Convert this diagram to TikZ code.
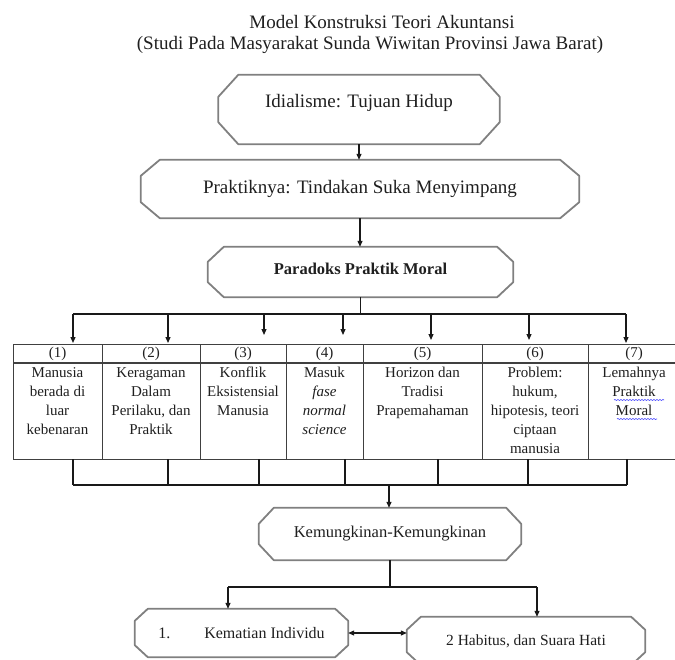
\documentclass[tikz,border=0pt]{standalone}
\usepackage{fontspec}
\setmainfont{Liberation Serif}
\usetikzlibrary{arrows.meta,calc,decorations.pathmorphing}
\newcommand\octbox[3]{\draw[boxline] ([xshift=#2]#1.north west) -- ([xshift=-#2]#1.north east) -- ([yshift=-#3]#1.north east) -- ([yshift=#3]#1.south east) -- ([xshift=-#2]#1.south east) -- ([xshift=#2]#1.south west) -- ([yshift=#3]#1.south west) -- ([yshift=-#3]#1.north west) -- cycle;}
\begin{document}
\begin{tikzpicture}[x=1pt,y=-1pt,
  every node/.style={text=black!88},
  boxline/.style={draw=black!50, line width=1.8pt, line join=round},
  box/.style={rectangle, inner sep=0pt},
  conn/.style={line width=1.2pt, draw=black!90},
  arr/.style={conn, -{Triangle[length=6pt,width=5pt]}},
  gridline/.style={draw=black!75, line width=1.2pt},
  big/.style={font=\fontsize{19}{23}\selectfont},
  mid/.style={font=\fontsize{16.5}{20}\selectfont},
  small/.style={font=\fontsize{15}{19}\selectfont},
  cell/.style={small, align=center, anchor=north, inner sep=0pt},
  col/.style={gridline, rectangle, inner sep=0pt, anchor=north west, minimum height=115pt}
]
\useasboundingbox (0,0) rectangle (675,659);
% titles
\node[big] (t1) at (382,22) {Model Konstruksi Teori Akuntansi};
\node[big] (t2) at (370,45) {(Studi Pada Masyarakat Sunda Wiwitan Provinsi Jawa Barat)};
% top boxes
\node[box, big, minimum width=281pt, minimum height=69pt, text height=14pt, text depth=19pt] (idial) at (359,109.5) {Idialisme: Tujuan Hidup};
\octbox{idial}{20pt}{22pt}
\node[box, big, minimum width=438pt, minimum height=58pt] (prak) at (360,189) {Praktiknya: Tindakan Suka Menyimpang};
\octbox{prak}{19pt}{16pt}
\node[box, mid, minimum width=305pt, minimum height=50pt, text height=13pt, text depth=9pt] (para) at (360.5,272) {\textbf{Paradoks Praktik Moral}};
\octbox{para}{16pt}{15pt}
\draw[arr] (idial.south) -- (idial.south |- prak.north);
\draw[arr] (prak.south) -- (prak.south |- para.north);
% table columns
\node[col, minimum width=89pt] (col1) at (13,344) {};
\node[col, minimum width=98pt] (col2) at (102,344) {};
\node[col, minimum width=86pt] (col3) at (200,344) {};
\node[col, minimum width=77pt] (col4) at (286,344) {};
\node[col, minimum width=119pt] (col5) at (363,344) {};
\node[col, minimum width=106pt] (col6) at (482,344) {};
\node[col, minimum width=92pt] (col7) at (588,344) {};
\draw[gridline] (col1.north west |- 0,363) -- (col7.north east |- 0,363);
% headers
\node[small] (h1) at (57.5,353.5) {(1)};
\node[small] (h2) at (151,353.5) {(2)};
\node[small] (h3) at (243,353.5) {(3)};
\node[small] (h4) at (324.5,353.5) {(4)};
\node[small] (h5) at (422.5,353.5) {(5)};
\node[small] (h6) at (535,353.5) {(6)};
\node[small] (h7) at (634,353.5) {(7)};
% cells
\node[cell] (c1) at (57.5,367) {Manusia\\berada di\\luar\\kebenaran};
\node[cell] (c2) at (151,367) {Keragaman\\Dalam\\Perilaku, dan\\Praktik};
\node[cell] (c3) at (243,367) {Konflik\\Eksistensial\\Manusia};
\node[cell] (c4) at (324.5,367) {Masuk\\\textit{fase}\\\textit{normal}\\\textit{science}};
\node[cell] (c5) at (422.5,367) {Horizon dan\\Tradisi\\Prapemahaman};
\node[cell] (c6) at (535,367) {Problem:\\hukum,\\hipotesis, teori\\ciptaan\\manusia};
\node[cell] (c7) at (634,367) {Lemahnya\\Praktik\\Moral};
\draw[blue!70, line width=0.6pt, decorate, decoration={snake, amplitude=0.6pt, segment length=3pt}] (614,400) -- (664,400);
\draw[blue!70, line width=0.6pt, decorate, decoration={snake, amplitude=0.6pt, segment length=3pt}] (617,419) -- (657,419);
% top bus
\coordinate (tL) at (73,314);
\coordinate (tR) at (626,314);
\draw[conn] (para.south) -- (para.south |- tL);
\draw[conn] (tL) -- (tR);
\foreach \x/\e [count=\i] in {73/343,168/343,264/335,343/335,431/340,529/340,626/343}{
  \coordinate (t\i) at (\x,314);
  \coordinate (b\i) at (\x,\e);
  \draw[arr] (t\i) -- (b\i);
}
% bottom bus
\foreach \x [count=\i] in {73,168,259,345,438,528,627}{
  \coordinate (u\i) at (\x,459);
  \coordinate (v\i) at (\x,485);
  \draw[conn] (u\i) -- (v\i);
}
\draw[conn] (v1) -- (v7);
% Kemungkinan
\node[box, mid, minimum width=262pt, minimum height=52pt] (kem) at (390,534) {Kemungkinan-Kemungkinan};
\octbox{kem}{15pt}{16pt}
\coordinate (kin) at (389,485);
\draw[arr] (kin) -- (kin |- kem.north);
% bottom boxes
\node[box, font=\fontsize{16}{19}\selectfont, minimum width=213pt, minimum height=48pt] (k1) at (241.5,633) {1.\hspace{34pt}Kematian Individu\hspace{13pt}};
\octbox{k1}{13pt}{12pt}
\node[box, font=\fontsize{15.5}{19}\selectfont, minimum width=238pt, minimum height=48pt] (k2) at (526,641) {2 Habitus, dan Suara Hati\hspace{19pt}};
\octbox{k2}{14pt}{13pt}
\coordinate (mL) at (228,587);
\coordinate (mR) at (537,587);
\draw[conn] (kem.south) -- (kem.south |- mL);
\draw[conn] (mL) -- (mR);
\draw[arr] (mL) -- (mL |- k1.north);
\draw[arr] (mR) -- (mR |- k2.north);
\draw[conn, {Triangle[length=6pt,width=5pt]}-{Triangle[length=6pt,width=5pt]}] (k1.east) -- (k1.east -| k2.west);
\end{tikzpicture}
\end{document}
